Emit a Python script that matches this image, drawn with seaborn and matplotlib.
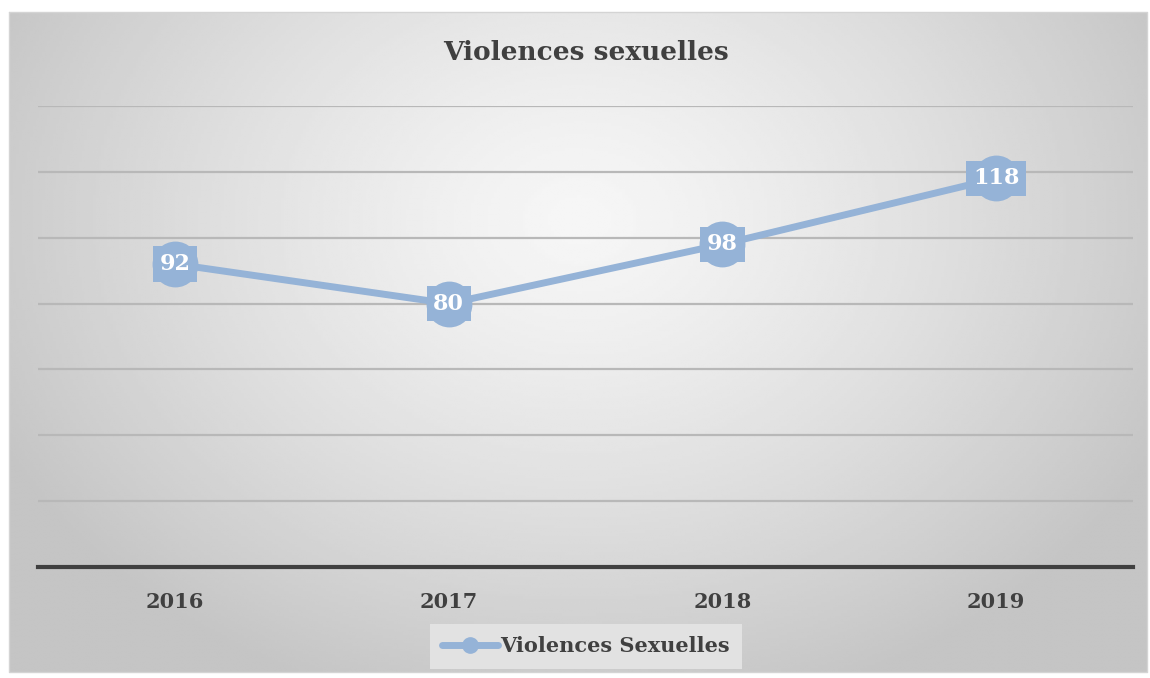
# Line chart of sexual violence cases per year, Excel-like styling

import numpy as np
import pandas as pd
import matplotlib.pyplot as plt
import seaborn as sns
from matplotlib.lines import Line2D

years = ['2016', '2017', '2018', '2019']
values = [92, 80, 98, 118]
series_name = 'Violences Sexuelles'
title = 'Violences sexuelles'

W, H = 1150, 678
line_color = '#95b3d7'
text_color = '#404040'

sns.set_theme(style='white')
plt.rcParams['font.family'] = ['DejaVu Serif']

fig = plt.figure(figsize=(W / 100, H / 100), dpi=100)
fig.patch.set_facecolor('white')

# Background: radial gray gradient inside the chart box
bg = fig.add_axes([0, 0, 1, 1], zorder=-2)
bg.set_xlim(0, W)
bg.set_ylim(H, 0)
bg.axis('off')
x0, x1, y0, y1 = 9, 1147, 12, 672
gx, gy = np.meshgrid(np.linspace(x0, x1, 400), np.linspace(y0, y1, 240))
r = np.sqrt(((gx - 580) / 640) ** 2 + ((gy - 220) / 500) ** 2)
shade = np.clip(0.965 - 0.19 * r ** 1.3, 0.77, 1)
bg.imshow(shade, cmap='gray', vmin=0, vmax=1, extent=(x0, x1, y1, y0),
          aspect='auto', interpolation='bilinear')
bg.plot([x0, x1, x1, x0, x0], [y0, y0, y1, y1, y0], color='#d4d4d4', lw=1)

# Main plot area
ax = fig.add_axes([38 / W, (H - 567) / H, (1133 - 38) / W, (567 - 106) / H])
ax.patch.set_alpha(0)
df = pd.DataFrame({'year': years, 'value': values})
sns.lineplot(data=df, x='year', y='value', ax=ax, color=line_color, lw=5,
             marker='o', markersize=33, markeredgewidth=0, sort=False)

for i, v in enumerate(values):
    ax.text(i, v, str(v), ha='center', va='center', color='white',
            fontsize=16, fontweight='bold',
            bbox=dict(boxstyle='square,pad=0.3', fc=line_color, ec='none'))

ax.set_xlim(-0.5, 3.5)
ax.set_ylim(0, 140)
ax.set_yticks(range(20, 141, 20))
ax.yaxis.grid(True, color='#b8b8b8', lw=1.6)
ax.set_yticklabels([])
ax.tick_params(axis='y', length=0)
ax.tick_params(axis='x', length=0, pad=18)
for lab in ax.get_xticklabels():
    lab.set_fontweight('bold')
    lab.set_fontsize(15)
    lab.set_color(text_color)
ax.set_xlabel('')
ax.set_ylabel('')
for side in ['top', 'left', 'right']:
    ax.spines[side].set_visible(False)
ax.spines['bottom'].set_color('#404040')
ax.spines['bottom'].set_linewidth(3)

fig.text(586 / W, 1 - 52 / H, title, ha='center', va='center',
         fontsize=19, fontweight='bold', color=text_color)

handle = Line2D([], [], color=line_color, lw=5, marker='o', markersize=11)
leg = fig.legend([handle], [series_name], loc='center',
                 bbox_to_anchor=(586 / W, 1 - 646 / H), frameon=True,
                 fancybox=False, handlelength=2.7, handletextpad=0.1,
                 prop={'size': 15, 'weight': 'bold'}, borderpad=0.6,
                 borderaxespad=0)
leg.get_frame().set_facecolor('#e2e2e2')
leg.get_frame().set_edgecolor('none')
leg.get_frame().set_alpha(1)
for t in leg.get_texts():
    t.set_color(text_color)

fig.savefig('out.png', dpi=100)
